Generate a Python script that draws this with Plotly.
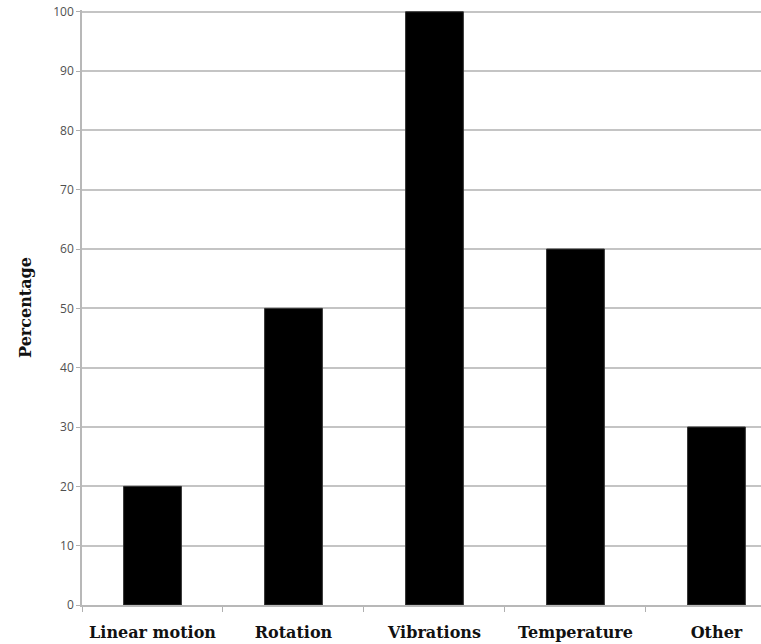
import plotly.graph_objects as go

categories = ["Linear motion", "Rotation", "Vibrations", "Temperature", "Other"]
percentages = [20, 50, 100, 60, 30]
y_ticks = [0, 10, 20, 30, 40, 50, 60, 70, 80, 90, 100]

fig = go.Figure(
    go.Bar(
        x=categories,
        y=percentages,
        marker=dict(color="#000000", line=dict(color="#333333", width=1)),
        width=0.41,
    )
)

fig.update_layout(
    width=761,
    height=644,
    margin=dict(l=82, r=0, t=10, b=39),
    paper_bgcolor="white",
    plot_bgcolor="white",
    showlegend=False,
    xaxis=dict(
        range=[-0.5, 4.316],
        tickson="boundaries",
        ticks="outside",
        ticklen=5,
        tickcolor="#b0b0b0",
        showgrid=False,
        showline=True,
        linecolor="#b8b8b8",
        linewidth=1.5,
        tickfont=dict(family="DejaVu Serif", size=16, color="#111111", weight="bold"),
        ticklabelstandoff=12,
        automargin=False,
    ),
    yaxis=dict(
        range=[0, 100.3],
        tickvals=y_ticks,
        ticks="outside",
        ticklen=4,
        tickcolor="#b0b0b0",
        showgrid=True,
        gridcolor="#c4c4c4",
        gridwidth=1.5,
        showline=True,
        linecolor="#b8b8b8",
        linewidth=1.5,
        zeroline=False,
        automargin=False,
        tickfont=dict(family="Open Sans", size=12, color="#505050"),
        title=dict(
            text="Percentage",
            font=dict(family="DejaVu Serif", size=16, color="#111111", weight="bold"),
            standoff=18,
        ),
    ),
)

fig.write_html(
    "out.html",
    config={"displayModeBar": False},
    post_script="document.body.style.margin='0';document.body.style.overflow='hidden';",
)
